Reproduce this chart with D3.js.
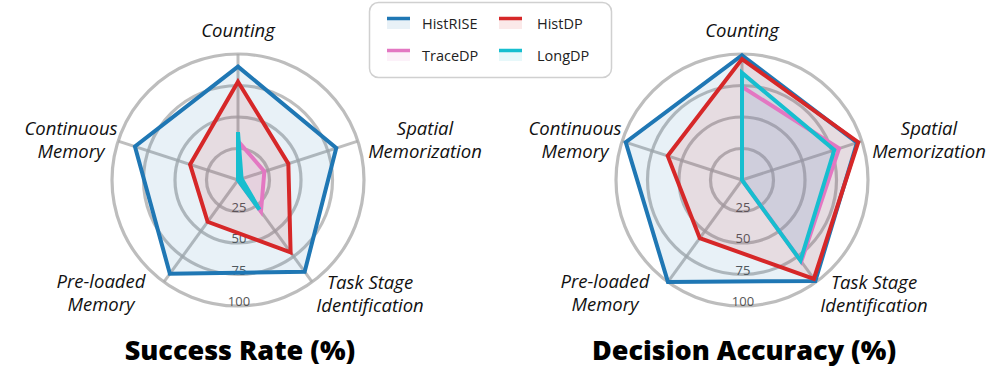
<!DOCTYPE html>
<html>
<head>
<meta charset="utf-8">
<script src="https://cdn.jsdelivr.net/npm/d3@7"></script>
<style>
  html, body { margin: 0; padding: 0; background: #fff; }
  svg { display: block; }
</style>
</head>
<body>
<svg id="chart" width="997" height="386"></svg>
<script>
// ---- data ----
const axes = ["Counting", "Spatial Memorization", "Task Stage Identification", "Pre-loaded Memory", "Continuous Memory"];
const axisLabelLines = [["Counting"], ["Spatial", "Memorization"], ["Task Stage", "Identification"], ["Pre-loaded", "Memory"], ["Continuous", "Memory"]];
const seriesNames = ["HistRISE", "HistDP", "TraceDP", "LongDP"];
const seriesColors = ["#1f77b4", "#d62728", "#e377c2", "#17becf"];
const ringTicks = [25, 50, 75, 100];
const panelTitles = ["Success Rate (%)", "Decision Accuracy (%)"];

// Success Rate (%)
const successHistRISE = [90, 82, 90, 92, 86];
const successHistDP   = [78, 42, 71, 41, 40];
const successTraceDP  = [31, 22, 31, 0, 0];
const successLongDP   = [38, 3, 29, 0, 0];

// Decision Accuracy (%)
const accuracyHistRISE = [99, 96, 99, 100, 97];
const accuracyHistDP   = [96, 97, 97, 57, 62];
const accuracyTraceDP  = [74, 81, 80, 0, 0];
const accuracyLongDP   = [85, 77, 79, 0, 0];

const panels = [
  { title: panelTitles[0], cx: 238, data: [successHistRISE, successHistDP, successTraceDP, successLongDP] },
  { title: panelTitles[1], cx: 742, data: [accuracyHistRISE, accuracyHistDP, accuracyTraceDP, accuracyLongDP] }
];

// ---- layout ----
const svg = d3.select("#chart");
const cy = 180;
const R = 126;
const rScale = d3.scaleLinear().domain([0, 100]).range([0, R]);
const angleOf = i => Math.PI / 2 - i * 2 * Math.PI / axes.length; // math angle, Counting at top
const labelFont = "'Open Sans', Lato, sans-serif";
// label centre offsets relative to panel centre
const labelOffsets = [[0, -151], [187, -41], [132, 113], [-137, 112], [-167, -41]];

panels.forEach(p => {
  const g = svg.append("g").attr("transform", `translate(${p.cx},${cy})`);
  const pt = (i, v) => {
    const a = angleOf(i);
    return [rScale(v) * Math.cos(a), -rScale(v) * Math.sin(a)];
  };

  // rings
  g.selectAll("circle.ring").data(ringTicks).join("circle")
    .attr("class", "ring")
    .attr("r", d => rScale(d))
    .attr("fill", "none")
    .attr("stroke", d => d === 100 ? "#bdbdbd" : "#a8a8a8")
    .attr("stroke-opacity", d => d === 100 ? 1 : 0.75)
    .attr("stroke-width", 3.2);

  // spokes
  g.selectAll("line.spoke").data(axes).join("line")
    .attr("class", "spoke")
    .attr("x1", 0).attr("y1", 0)
    .attr("x2", (d, i) => pt(i, 100)[0])
    .attr("y2", (d, i) => pt(i, 100)[1])
    .attr("stroke", "#a8a8a8")
    .attr("stroke-opacity", 0.75)
    .attr("stroke-width", 3);

  // ring labels
  g.selectAll("text.rlab").data(ringTicks).join("text")
    .attr("class", "rlab")
    .attr("x", 1)
    .attr("y", d => rScale(d) - 5)
    .attr("text-anchor", "middle")
    .attr("dominant-baseline", "central")
    .attr("font-family", labelFont)
    .attr("font-size", 13)
    .attr("fill", "#555")
    .text(d => d);

  const line = d3.line().curve(d3.curveLinearClosed);

  // fills
  p.data.forEach((vals, s) => {
    g.append("path")
      .attr("d", line(vals.map((v, i) => pt(i, v))))
      .attr("fill", seriesColors[s])
      .attr("fill-opacity", 0.1)
      .attr("stroke", "none");
  });
  // outlines
  p.data.forEach((vals, s) => {
    g.append("path")
      .attr("d", line(vals.map((v, i) => pt(i, v))))
      .attr("fill", "none")
      .attr("stroke", seriesColors[s])
      .attr("stroke-width", 4)
      .attr("stroke-linejoin", "miter")
      .attr("stroke-miterlimit", 10);
  });

  // axis labels
  axisLabelLines.forEach((lines, i) => {
    const [ox, oy] = labelOffsets[i];
    const t = g.append("text")
      .attr("text-anchor", "middle")
      .attr("font-family", labelFont)
      .attr("font-style", "italic")
      .attr("font-size", 18.5)
      .attr("fill", "#111");
    const n = lines.length;
    lines.forEach((ln, k) => {
      t.append("tspan")
        .attr("x", ox)
        .attr("y", oy + (k - (n - 1) / 2) * 23)
        .attr("dominant-baseline", "central")
        .text(ln);
    });
  });

  // title
  svg.append("text")
    .attr("x", p.cx + 2)
    .attr("y", 349)
    .attr("text-anchor", "middle")
    .attr("dominant-baseline", "central")
    .attr("font-family", labelFont)
    .attr("font-weight", 800)
    .attr("font-size", 27)
    .attr("fill", "#000")
    .text(p.title);
});

// legend
const lg = svg.append("g");
lg.append("rect")
  .attr("x", 369.5).attr("y", 2.5)
  .attr("width", 242).attr("height", 75)
  .attr("rx", 9)
  .attr("fill", "#fff")
  .attr("stroke", "#d0d0d0")
  .attr("stroke-width", 1.5);
const legendCols = [387, 499];
const legendTextX = [422, 537];
const legendRows = [17, 49];
seriesNames.forEach((name, s) => {
  const col = s % 2, row = Math.floor(s / 2);
  const x = legendCols[col], y = legendRows[row];
  lg.append("rect")
    .attr("x", x).attr("y", y)
    .attr("width", 23).attr("height", 12)
    .attr("fill", seriesColors[s])
    .attr("fill-opacity", 0.1);
  lg.append("line")
    .attr("x1", x).attr("x2", x + 23)
    .attr("y1", y + 1.5).attr("y2", y + 1.5)
    .attr("stroke", seriesColors[s])
    .attr("stroke-width", 3.5);
  lg.append("text")
    .attr("x", legendTextX[col])
    .attr("y", y + 6)
    .attr("dominant-baseline", "central")
    .attr("font-family", labelFont)
    .attr("font-size", 14.5)
    .attr("fill", "#222")
    .text(name);
});
</script>
</body>
</html>
